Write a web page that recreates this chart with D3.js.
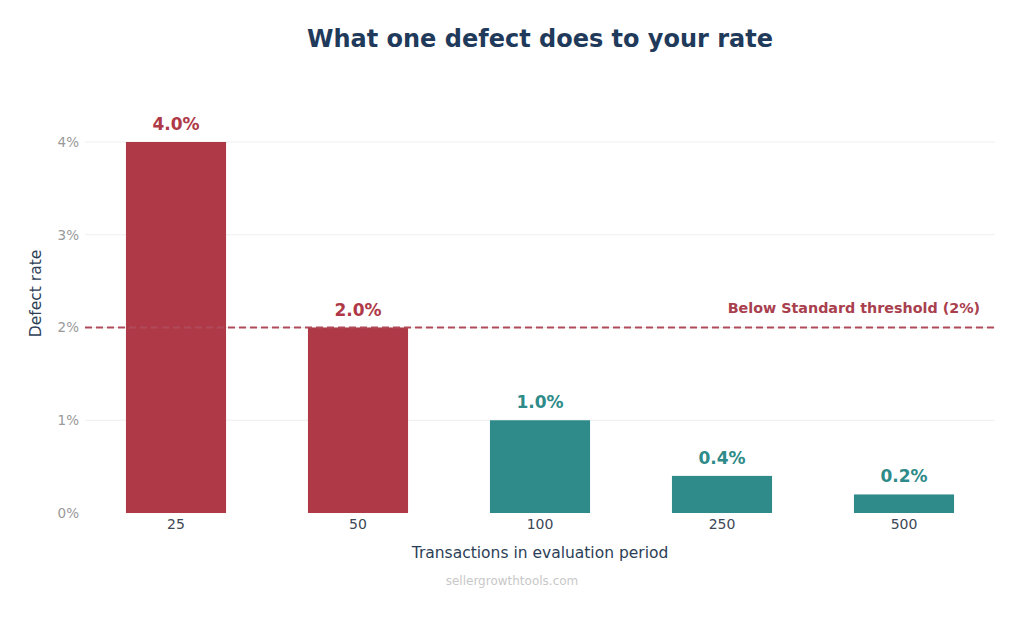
<!DOCTYPE html>
<html>
<head>
<meta charset="utf-8">
<script src="https://cdn.jsdelivr.net/npm/d3@7"></script>
<style>
  body { margin: 0; background: #fff; font-family: "DejaVu Sans", sans-serif; }
</style>
</head>
<body>
<svg id="chart" width="1024" height="617"></svg>
<script>
// chart data
const categories = ["25", "50", "100", "250", "500"];
const rates = [4.0, 2.0, 1.0, 0.4, 0.2];
const yTicks = [0, 1, 2, 3, 4];
const threshold = 2;

const width = 1024;
const height = 617;
const margin = {top: 142, right: 29, bottom: 104, left: 85};
const red = "#af3947";
const teal = "#2e8b89";
const navy = "#1f3a5a";

const svg = d3.select("#chart");

const x = d3.scaleBand()
  .domain(categories)
  .range([margin.left, width - margin.right])
  .paddingInner(0.45)
  .paddingOuter(0.225);

const y = d3.scaleLinear()
  .domain([0, 4])
  .range([height - margin.bottom, margin.top]);

// gridlines
svg.append("g")
  .selectAll("line")
  .data(yTicks.filter(d => d > 0))
  .join("line")
  .attr("x1", margin.left)
  .attr("x2", width - margin.right)
  .attr("y1", d => y(d))
  .attr("y2", d => y(d))
  .attr("stroke", "#eeeeee")
  .attr("stroke-width", 1);

// y axis
const yAxis = svg.append("g")
  .attr("transform", `translate(${margin.left},0)`)
  .call(d3.axisLeft(y).tickValues(yTicks).tickFormat(d => d + "%").tickSize(0).tickPadding(6));
yAxis.select(".domain").remove();
yAxis.selectAll("text")
  .attr("fill", "#999999")
  .style("font-size", "13.5px")
  .style("font-family", "DejaVu Sans");

// x axis
const xAxis = svg.append("g")
  .attr("transform", `translate(0,${height - margin.bottom})`)
  .call(d3.axisBottom(x).tickSize(0).tickPadding(6));
xAxis.select(".domain").remove();
xAxis.selectAll("text")
  .attr("fill", "#3d4756")
  .style("font-size", "14px")
  .style("font-family", "DejaVu Sans");

const colorOf = d => d >= threshold ? red : teal;

// bars
svg.append("g")
  .selectAll("rect")
  .data(rates)
  .join("rect")
  .attr("x", (d, i) => x(categories[i]))
  .attr("y", d => y(d))
  .attr("width", x.bandwidth())
  .attr("height", d => y(0) - y(d))
  .attr("fill", colorOf);

// value labels
svg.append("g")
  .selectAll("text")
  .data(rates)
  .join("text")
  .attr("x", (d, i) => x(categories[i]) + x.bandwidth() / 2)
  .attr("y", d => y(d) - 12)
  .attr("text-anchor", "middle")
  .attr("fill", colorOf)
  .style("font-size", "17px")
  .style("font-weight", "bold")
  .text(d => d.toFixed(1) + "%");

// threshold line
svg.append("line")
  .attr("x1", margin.left)
  .attr("x2", width - margin.right)
  .attr("y1", y(threshold))
  .attr("y2", y(threshold))
  .attr("stroke", "#b04a5a")
  .attr("stroke-width", 2)
  .attr("stroke-dasharray", "7,4");

svg.append("text")
  .attr("x", 980)
  .attr("y", y(threshold) - 15)
  .attr("text-anchor", "end")
  .attr("fill", "#a9404e")
  .style("font-size", "14.3px")
  .style("font-weight", "bold")
  .text("Below Standard threshold (2%)");

// title
svg.append("text")
  .attr("x", 540)
  .attr("y", 47)
  .attr("text-anchor", "middle")
  .attr("fill", navy)
  .style("font-size", "24px")
  .style("font-weight", "bold")
  .text("What one defect does to your rate");

// axis titles
svg.append("text")
  .attr("x", 540)
  .attr("y", 558)
  .attr("text-anchor", "middle")
  .attr("fill", "#2c3e56")
  .style("font-size", "15.5px")
  .text("Transactions in evaluation period");

svg.append("text")
  .attr("transform", `translate(41,${(y(0) + y(4)) / 2 - 34}) rotate(-90)`)
  .attr("text-anchor", "middle")
  .attr("fill", "#2c3e56")
  .style("font-size", "15.5px")
  .text("Defect rate");

// footer
svg.append("text")
  .attr("x", 512)
  .attr("y", 585)
  .attr("text-anchor", "middle")
  .attr("fill", "#c8c8c8")
  .style("font-size", "12px")
  .text("sellergrowthtools.com");
</script>
</body>
</html>
